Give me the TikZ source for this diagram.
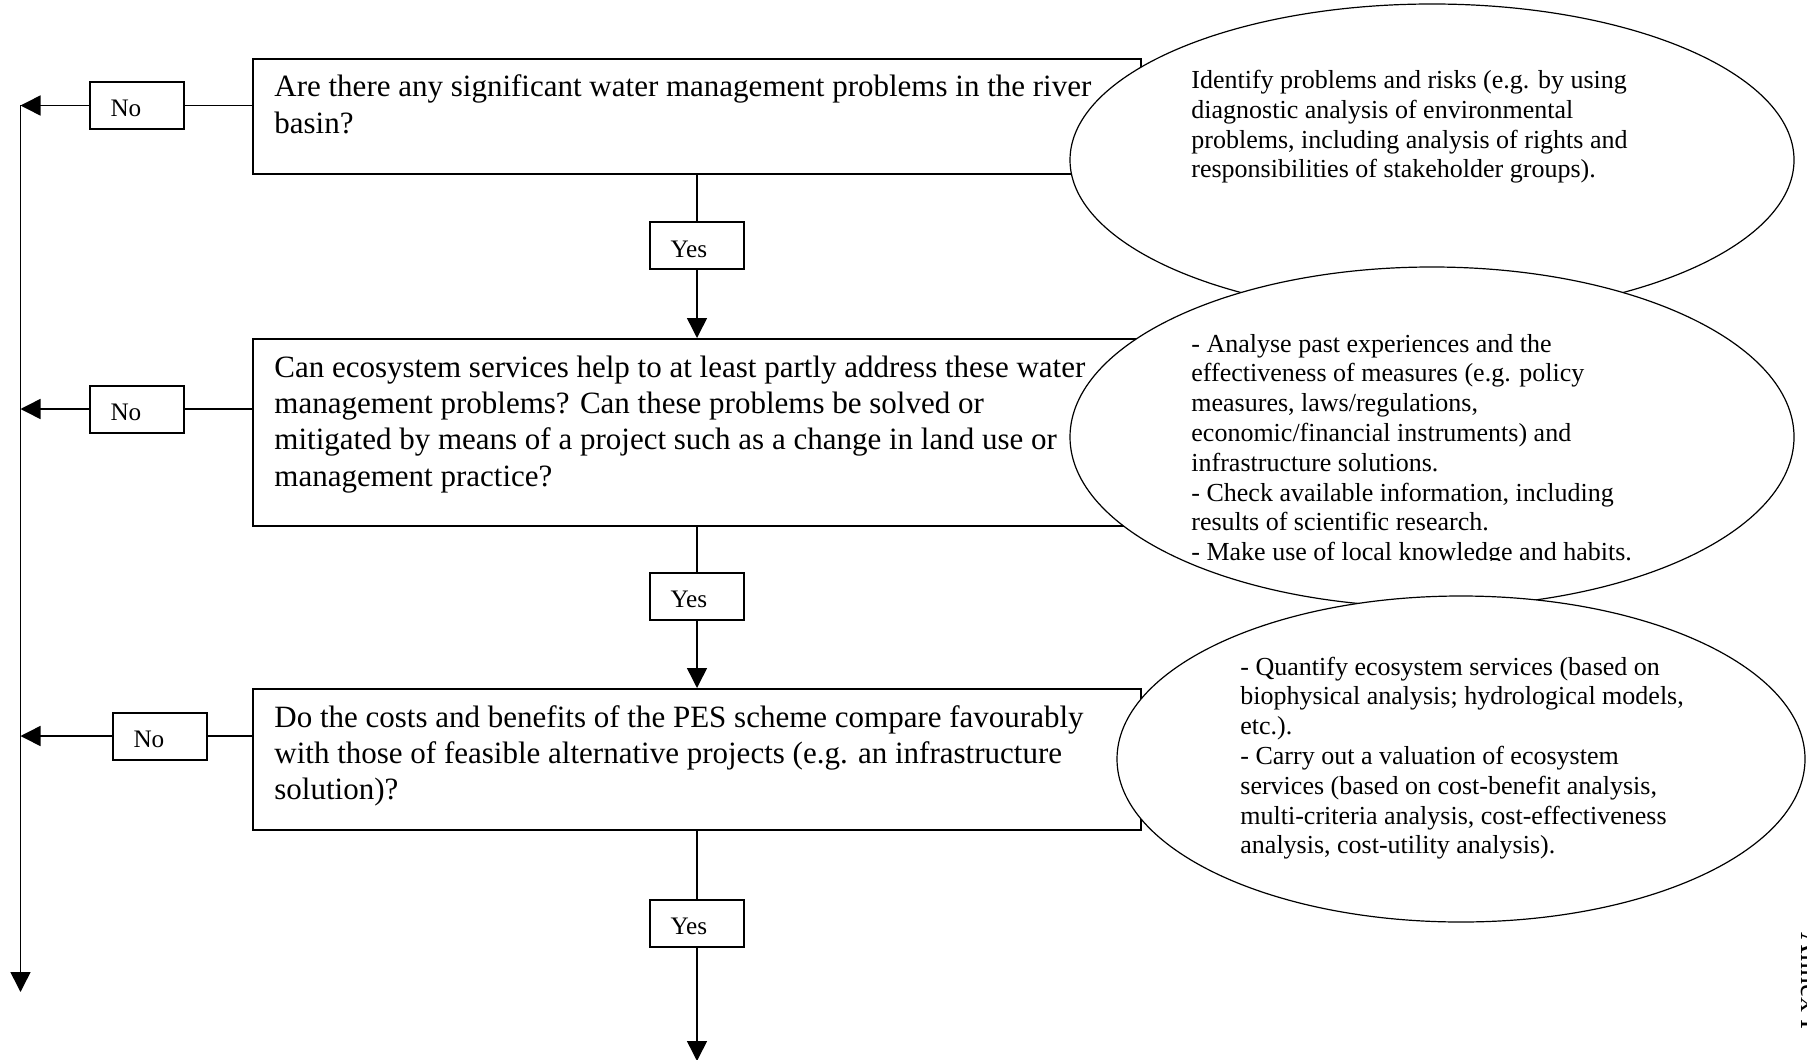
\documentclass[tikz,border=0pt]{standalone}
\usepackage{fontspec}
\setmainfont{Liberation Serif}
\usetikzlibrary{arrows.meta,shapes.geometric}
\begin{document}
\begin{tikzpicture}[x=0.5pt,y=-0.5pt,
  qbox/.style={draw,line width=1pt,rectangle,minimum width=444pt,inner sep=0pt},
  lbl/.style={draw,line width=1pt,minimum width=47pt,minimum height=23.5pt,inner ysep=0pt,inner xsep=10.25pt,
    text width=26.5pt,align=left,text height=11.5pt,text depth=0pt,font=\fontsize{12.6}{15}\selectfont},
  conn/.style={line width=0.75pt},
  arr/.style={conn,-{Triangle[length=10pt,width=10pt]}},
  bubble/.style={draw,ellipse,fill=white,line width=0.6pt,inner sep=0pt},
  qtext/.style={anchor=base west,inner sep=0pt,font=\fontsize{15.5}{18.2}\selectfont},
  btext/.style={anchor=base west,inner sep=0pt,font=\fontsize{13}{14.9}\selectfont},
]
\useasboundingbox (0,0) rectangle (1807,1059);

% question boxes
\node[qbox,minimum height=57.5pt] (b1) at (697,116.5) {};
\node[qbox,minimum height=93.5pt] (b2) at (697,432.5) {};
\node[qbox,minimum height=70.5pt] (b3) at (697,759.5) {};

% labels
\node[lbl] (n1) at (137,105.5) {No};
\node[lbl] (n2) at (137,409) {No};
\node[lbl] (n3) at (160,736) {No};
\node[lbl] (y1) at (697,245.5) {Yes};
\node[lbl] (y2) at (697,596) {Yes};
\node[lbl] (y3) at (697,923) {Yes};

% left trunk
\coordinate (ltop) at (20.5,105.5);
\coordinate (lbot) at (20.5,992);
\coordinate (dend) at (697,1061);

\draw[arr] (ltop) -- (lbot);
\draw[conn] (n1.east) -- (n1.east -| b1.west);
\draw[conn] (n2.east) -- (n2.east -| b2.west);
\draw[conn] (n3.east) -- (n3.east -| b3.west);
\draw[arr] (n1.west) -- (n1.west -| ltop);
\draw[arr] (n2.west) -- (n2.west -| ltop);
\draw[arr] (n3.west) -- (n3.west -| ltop);

% yes chain
\draw[conn] (b1.south) -- (y1.north);
\draw[arr] (y1.south) -- (b2.north);
\draw[conn] (b2.south) -- (y2.north);
\draw[arr] (y2.south) -- (b3.north);
\draw[conn] (b3.south) -- (y3.north);
\draw[arr] (y3.south) -- (dend);

% ellipses
\node[bubble,minimum width=362pt,minimum height=156pt] (e1) at (1432,160) {};
\node[btext] (t1) at (1191,88.5) {\parbox[t]{330pt}{\raggedright
Identify problems and risks (e.g. by using\\
diagnostic analysis of environmental\\
problems, including analysis of rights and\\
responsibilities of stakeholder groups).}};

\node[bubble,minimum width=362pt,minimum height=170pt] (e2) at (1432,437) {};
\begin{scope}
\clip (1100,300) rectangle (1790,560.5);
\node[btext] (t2) at (1191,352) {\parbox[t]{330pt}{\raggedright
- Analyse past experiences and the\\
effectiveness of measures (e.g. policy\\
measures, laws/regulations,\\
economic/financial instruments) and\\
infrastructure solutions.\\
- Check available information, including\\
results of scientific research.\\
- Make use of local knowledge and habits.}};
\end{scope}

\node[bubble,minimum width=344pt,minimum height=163pt] (e3) at (1461,759) {};
\node[btext] (t3) at (1240,675) {\parbox[t]{330pt}{\raggedright
- Quantify ecosystem services (based on\\
biophysical analysis; hydrological models,\\
etc.).\\
- Carry out a valuation of ecosystem\\
services (based on cost-benefit analysis,\\
multi-criteria analysis, cost-effectiveness\\
analysis, cost-utility analysis).}};

% question texts
\node[qtext] (q1) at (274,97) {\parbox[t]{440pt}{\raggedright
Are there any significant water management problems in the river\\
basin?}};
\node[qtext] (q2) at (274,377) {\parbox[t]{440pt}{\raggedright
Can ecosystem services help to at least partly address these water\\
management problems? Can these problems be solved or\\
mitigated by means of a project such as a change in land use or\\
management practice?}};
\node[qtext] (q3) at (274,727) {\parbox[t]{440pt}{\raggedright
Do the costs and benefits of the PES scheme compare favourably\\
with those of feasible alternative projects (e.g. an infrastructure\\
solution)?}};

% page margin note
\node[rotate=-90,anchor=base west,inner sep=0pt,font=\fontsize{15}{18}\selectfont] (annex) at (1801,932) {Annex I};
\end{tikzpicture}
\end{document}
